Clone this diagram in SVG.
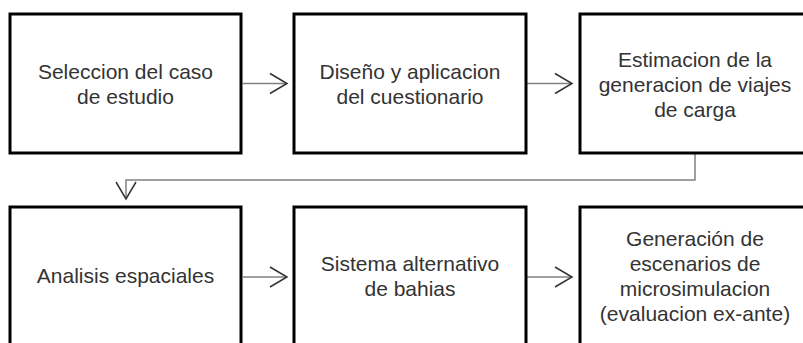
<svg xmlns="http://www.w3.org/2000/svg" width="803" height="343" viewBox="0 0 803 343">
<style>
.box{fill:#fff;stroke:#000;stroke-width:3}
.t{font-family:"Liberation Sans",Arial,sans-serif;font-size:21px;fill:#333;text-anchor:middle}
.c{fill:none;stroke:#808080;stroke-width:1.5}
</style>
<defs>
<marker id="ah" markerUnits="userSpaceOnUse" markerWidth="24" markerHeight="24" viewBox="-20 -12 24 24" refX="0" refY="0" orient="auto">
<path d="M-17,-10 L0,0 L-17,10" fill="none" stroke="#333" stroke-width="1.5"/>
</marker>
</defs>
<rect width="803" height="343" fill="#fff"/>
<g id="connectors">
<path class="c" d="M243 83.5 H287" marker-end="url(#ah)"/>
<path class="c" d="M527 83.5 H572" marker-end="url(#ah)"/>
<path class="c" d="M695 154 V180 H126 V199" marker-end="url(#ah)"/>
<path class="c" d="M243 277 H287" marker-end="url(#ah)"/>
<path class="c" d="M527 277 H572" marker-end="url(#ah)"/>
</g>
<g id="n1"><rect class="box" x="10" y="14" width="231" height="139"/><text class="t" x="125.5"><tspan x="125.5" y="78.5">Seleccion del caso</tspan><tspan x="125.5" y="103.5">de estudio</tspan></text></g>
<g id="n2"><rect class="box" x="294" y="14" width="232" height="139"/><text class="t"><tspan x="410" y="78.5">Diseño y aplicacion</tspan><tspan x="410" y="103.5">del cuestionario</tspan></text></g>
<g id="n3"><rect class="box" x="580" y="14" width="232" height="139"/><text class="t"><tspan x="695" y="66.5">Estimacion de la</tspan><tspan x="695" y="91.5">generacion de viajes</tspan><tspan x="695" y="116.5">de carga</tspan></text></g>
<g id="n4"><rect class="box" x="10" y="207" width="231" height="145"/><text class="t"><tspan x="125.5" y="283">Analisis espaciales</tspan></text></g>
<g id="n5"><rect class="box" x="294" y="207" width="232" height="145"/><text class="t"><tspan x="410" y="270.5">Sistema alternativo</tspan><tspan x="410" y="295.5">de bahias</tspan></text></g>
<g id="n6"><rect class="box" x="580" y="207" width="232" height="145"/><text class="t"><tspan x="695" y="245.5">Generación de</tspan><tspan x="695" y="270.5">escenarios de</tspan><tspan x="695" y="296">microsimulacion</tspan><tspan x="695" y="321">(evaluacion ex-ante)</tspan></text></g>
</svg>
